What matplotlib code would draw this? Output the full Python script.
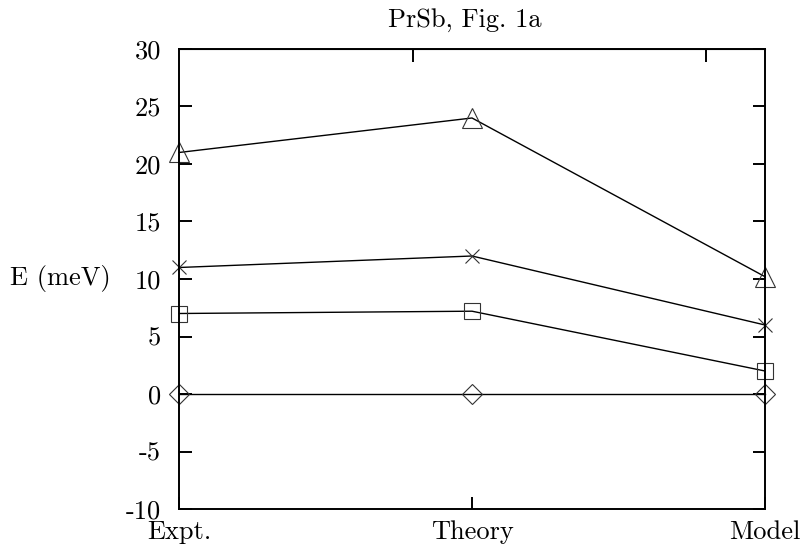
import matplotlib

matplotlib.use("Agg")
import matplotlib.pyplot as plt

plt.rcParams["font.family"] = ["cmr10", "DejaVu Serif"]
plt.rcParams["axes.unicode_minus"] = False
plt.rcParams["axes.formatter.use_mathtext"] = True

# data
methods = ["Expt.", "Theory", "Model"]
level_triangle = [21.0, 24.0, 10.2]
level_cross = [11.0, 12.0, 6.0]
level_square = [7.0, 7.2, 2.0]
level_diamond = [0.0, 0.0, 0.0]

y_ticks = [-10, -5, 0, 5, 10, 15, 20, 25, 30]
y_ticklabels = ["-10", "-5", "0", "5", "10", "15", "20", "25", "30"]
top_ticks = [0.8, 1.8]

fig = plt.figure(figsize=(8.02, 5.51), dpi=100)
ax = fig.add_axes([0.2232, 0.0762, 0.7307, 0.8349])

x = list(range(len(methods)))
series = [
    (level_triangle, "^", 15),
    (level_cross, "x", 10),
    (level_square, "s", 11.5),
    (level_diamond, "D", 10),
]
for vals, mk, ms in series:
    ax.plot(x, vals, color="black", lw=1.0, marker=mk, ms=ms,
            mfc="none", mec="#333333", mew=0.8, clip_on=False)

ax.set_xlim(0, 2)
ax.set_ylim(-10, 30)
ax.set_xticks(x)
ax.set_xticklabels(methods)
ax.set_yticks(y_ticks)
ax.set_yticklabels(y_ticklabels)

for s in ax.spines.values():
    s.set_linewidth(1.4)
ax.tick_params(axis="both", direction="in", length=9, width=1.4,
               labelsize=19)
ax.tick_params(axis="y", right=True, pad=13)
ax.tick_params(axis="x", top=False, pad=8)

sec = ax.secondary_xaxis("top")
sec.set_xticks(top_ticks)
sec.set_xticklabels([])
sec.tick_params(direction="in", length=9, width=1.4)

ax.set_title("PrSb, Fig. 1a", fontsize=19, pad=16, x=0.488)
ax.set_ylabel("E (meV)", rotation=0, fontsize=19, ha="right", va="center")
ax.yaxis.set_label_coords(-0.117, 0.5)

fig.savefig("out.png", dpi=100)
